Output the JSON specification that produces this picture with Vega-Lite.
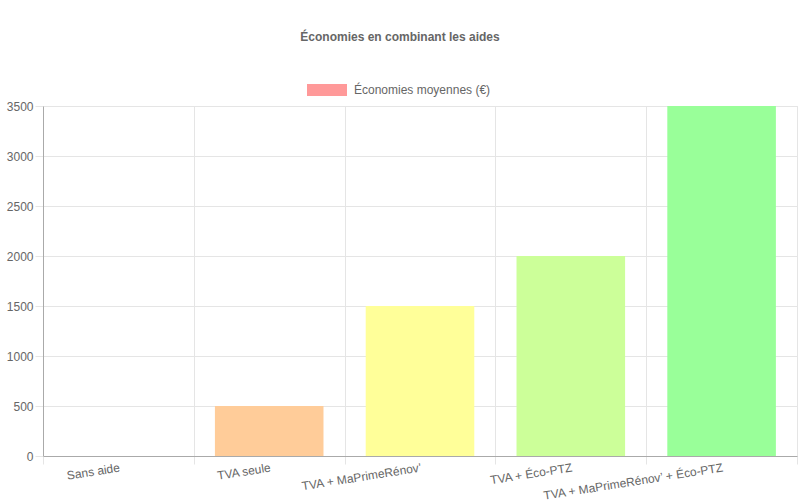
{
  "$schema": "https://vega.github.io/schema/vega-lite/v6.json",
  "width": 754,
  "height": 350,
  "autosize": {"type": "none"},
  "padding": {"left": 43, "top": 106, "right": 3, "bottom": 44},
  "background": "white",
  "title": {
    "text": "Économies en combinant les aides",
    "font": "Liberation Sans",
    "fontSize": 12,
    "fontWeight": "bold",
    "color": "#666666",
    "anchor": "middle",
    "dx": -20,
    "offset": 26
  },
  "data": {
    "values": [
      {"aide": "Sans aide", "economie": 0},
      {"aide": "TVA seule", "economie": 500},
      {"aide": "TVA + MaPrimeRénov’", "economie": 1500},
      {"aide": "TVA + Éco-PTZ", "economie": 2000},
      {"aide": "TVA + MaPrimeRénov’ + Éco-PTZ", "economie": 3500}
    ]
  },
  "encoding": {
    "x": {
      "field": "aide",
      "type": "nominal",
      "sort": null,
      "title": null,
      "scale": {"paddingInner": 0, "paddingOuter": 0},
      "axis": {
        "tickBand": "extent",
        "labelAngle": -9,
        "labelAlign": "right",
        "labelBaseline": "top",
        "labelPadding": -2,
        "labelLimit": 0,
        "tickSize": 8,
        "tickColor": "#e5e5e5",
        "gridColor": "#e5e5e5",
        "grid": true,
        "domainColor": "#aaaaaa",
        "labelFont": "Liberation Sans",
        "labelFontSize": 12,
        "labelColor": "#666666"
      }
    },
    "y": {
      "field": "economie",
      "type": "quantitative",
      "title": null,
      "scale": {"domain": [0, 3500], "nice": false},
      "axis": {
        "values": [0, 500, 1000, 1500, 2000, 2500, 3000, 3500],
        "format": "d",
        "tickSize": 8,
        "tickColor": "#e5e5e5",
        "gridColor": "#e5e5e5",
        "domainColor": "#aaaaaa",
        "labelPadding": 2,
        "labelFont": "Liberation Sans",
        "labelFontSize": 12,
        "labelColor": "#666666"
      }
    }
  },
  "layer": [
    {
      "mark": {"type": "bar", "width": {"band": 0.72}},
      "encoding": {
        "color": {
          "field": "aide",
          "type": "nominal",
          "scale": {
            "domain": ["Sans aide", "TVA seule", "TVA + MaPrimeRénov’", "TVA + Éco-PTZ", "TVA + MaPrimeRénov’ + Éco-PTZ"],
            "range": ["#ff9999", "#ffcc99", "#ffff99", "#ccff99", "#99ff99"]
          },
          "legend": null
        }
      }
    },
    {
      "transform": [{"filter": "datum.economie == 0"}],
      "mark": {"type": "bar", "width": {"band": 0.72}},
      "encoding": {
        "color": {
          "datum": "Économies moyennes (€)",
          "type": "nominal",
          "scale": {"range": ["#ff9999"]},
          "legend": {
            "title": null,
            "orient": "none",
            "legendX": 264,
            "legendY": -36,
            "padding": 0,
            "symbolType": "M-1,-0.3H1V0.3H-1Z",
            "symbolSize": 1600,
            "symbolStrokeWidth": 0,
            "symbolOpacity": 1,
            "labelOffset": 7,
            "labelFont": "Liberation Sans",
            "labelFontSize": 12,
            "labelColor": "#666666"
          }
        }
      }
    }
  ],
  "resolve": {"scale": {"color": "independent"}},
  "config": {"view": {"stroke": "#e5e5e5"}}
}
